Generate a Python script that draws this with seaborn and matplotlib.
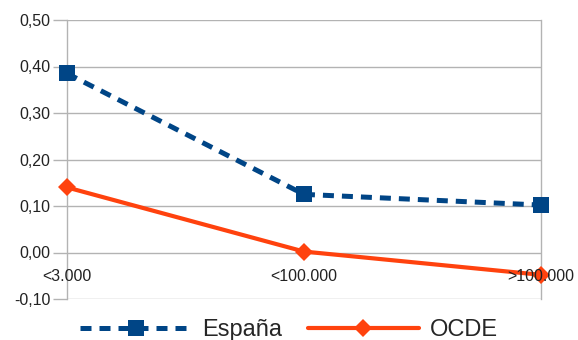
import pandas as pd
import matplotlib.pyplot as plt
import seaborn as sns

categorias = ['<3.000', '<100.000', '>100.000']
espana = [0.385, 0.125, 0.102]
ocde = [0.14, 0.002, -0.048]

sns.set_theme(style='white')
plt.rcParams['font.family'] = ['Liberation Sans', 'DejaVu Sans']

df = pd.DataFrame({
    'pos': list(range(len(categorias))) * 2,
    'valor': espana + ocde,
    'serie': ['España'] * len(categorias) + ['OCDE'] * len(categorias),
})

fig = plt.figure(figsize=(5.78, 3.4), dpi=100)
ax = fig.add_axes([67 / 578, 1 - 299 / 340, (541 - 67) / 578, (299 - 20) / 340])

grid = '#b3b3b3'
for y in [-0.1, 0.0, 0.1, 0.2, 0.3, 0.4, 0.5]:
    ax.axhline(y, color=grid, lw=1, zorder=0)

sns.lineplot(data=df[df.serie == 'España'], x='pos', y='valor', ax=ax,
             color='#004586', lw=3.6, dashes=False, linestyle=(0, (2.2, 1.6)),
             marker='s', markersize=12, markeredgewidth=0, label='España',
             legend=False, zorder=3, clip_on=False)
sns.lineplot(data=df[df.serie == 'OCDE'], x='pos', y='valor', ax=ax,
             color='#ff420e', lw=3, marker='D', markersize=9,
             markeredgewidth=0, label='OCDE', legend=False, zorder=3,
             clip_on=False)

ax.set_xlim(0, 2)
ax.set_ylim(-0.1, 0.5)
ax.set_yticks([-0.1, 0.0, 0.1, 0.2, 0.3, 0.4, 0.5])
ax.set_yticklabels([f'{v:.2f}'.replace('.', ',') for v in [-0.1, 0.0, 0.1, 0.2, 0.3, 0.4, 0.5]],
                   fontsize=11.5, color='#222222')
ax.tick_params(axis='y', length=10, color=grid, width=1, pad=2, left=True)
ax.set_xticks([])
ax.set_xlabel('')
ax.set_ylabel('')
for s in ['top', 'bottom']:
    ax.spines[s].set_visible(False)
for s in ['left', 'right']:
    ax.spines[s].set_color(grid)
    ax.spines[s].set_linewidth(1)

for i, c in enumerate(categorias):
    ax.annotate(c, (i, 0), xytext=(0, -12), textcoords='offset points',
                ha='center', va='top', fontsize=11.5, color='#222222',
                annotation_clip=False, zorder=4)

h, l = ax.get_legend_handles_labels()
fig.legend(h, l, loc='lower center', bbox_to_anchor=(0.5, -0.065), ncol=2,
           frameon=False, fontsize=17, handlelength=4.7, columnspacing=1.1,
           handletextpad=0.45)

fig.savefig('out.png', dpi=100)
